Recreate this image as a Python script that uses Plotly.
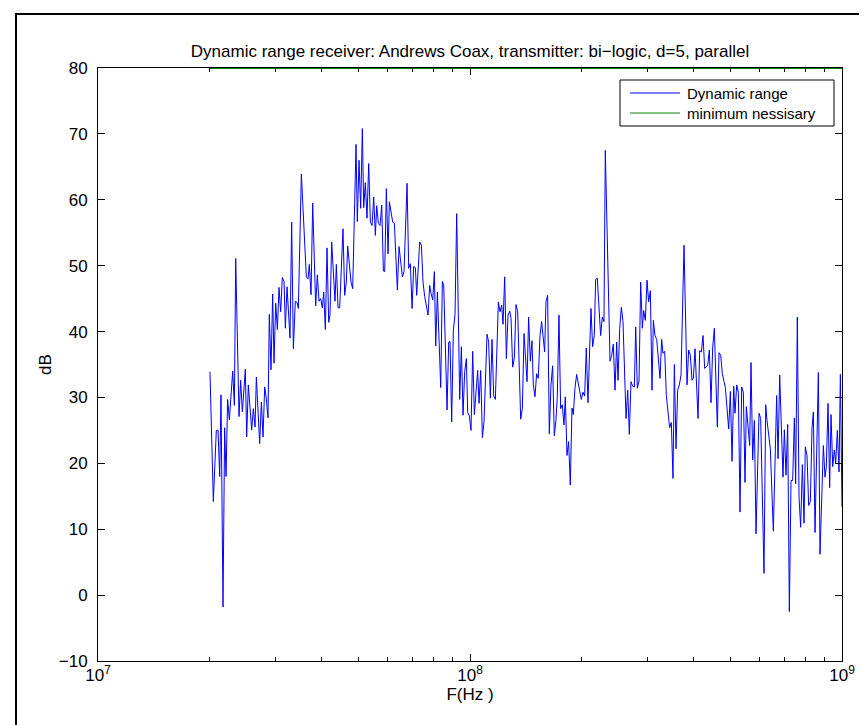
import plotly.graph_objects as go

# Frequency (MHz) and dynamic range (dB)
freq_mhz = [
    20.0, 20.42, 20.80, 21.02, 21.24, 21.41, 21.68, 21.90, 22.09, 22.31, 22.55, 22.78, 23.02, 23.26, 23.45,
    23.94, 24.18, 24.44, 24.89, 25.10, 25.36, 25.89, 26.16, 26.43, 26.65, 27.20, 27.49, 27.77, 28.06, 28.35,
    28.64, 28.88, 29.18, 29.48, 29.73, 30.04, 30.35, 30.66, 30.98, 31.30, 31.63, 31.89, 32.22,
    32.82, 33.16, 33.51, 33.92, 34.28, 34.56, 35.21, 36.31, 36.69, 36.99, 37.38, 37.77, 38.47, 38.87, 39.28,
    39.68, 40.09, 40.43, 40.85, 41.27, 41.70, 42.04, 42.48, 42.92, 43.37, 43.72, 44.18, 44.63, 45.56, 46.04,
    46.51, 46.90, 47.88, 48.38, 49.38, 49.79, 50.31, 50.83, 51.36, 51.79, 52.32, 52.86,
    53.42, 53.98, 54.54, 55.10, 55.67, 56.13, 56.72, 57.30, 57.90, 58.50, 58.98, 59.59, 60.21, 60.71, 61.98,
    62.62, 63.79, 64.46, 65.80, 66.48, 67.73, 68.43, 69.14, 69.86, 70.58, 71.31, 71.90, 73.25, 74.01, 74.77,
    75.55, 77.13, 77.92, 78.57, 79.39, 80.21, 80.88, 81.72, 83.42, 84.28, 84.98, 86.76,
    87.64, 88.37, 89.28, 90.21, 91.15, 92.09, 93.82, 94.79, 95.77, 96.76, 97.77, 98.58, 99.60, 100.63, 101.68,
    102.73, 103.80, 104.87, 105.74, 106.84, 107.95, 109.07, 111.11, 112.26, 113.43, 114.60, 115.79, 116.99,
    119.19, 120.42, 121.67, 122.67, 123.95, 125.23, 126.53, 127.84, 128.91, 130.24, 131.59, 132.96, 134.34,
    136.85, 138.27, 139.71, 142.33,
    143.76, 145.25, 146.75, 147.97, 149.50, 151.05, 152.62, 154.20, 155.80, 158.72, 160.04, 161.69, 163.37,
    165.07, 166.78, 168.51, 170.26, 171.67, 173.45, 175.25, 177.06, 178.90, 180.38, 182.25, 184.14, 186.05,
    187.98, 189.54, 191.51, 193.49, 197.11, 199.16, 201.22, 203.31, 205.41, 207.55, 211.44, 213.63, 215.85,
    217.64, 219.90, 224.48, 226.81, 229.16, 231.06,
    237.9, 240.4, 242.8, 245.4, 247.9, 250.0, 252.6, 255.2, 257.8, 262.7, 265.4, 268.1, 270.9, 273.7, 276.6,
    278.9, 281.7, 284.7, 287.6, 290.6, 293.0, 296.0, 299.1, 302.2, 305.4, 308.5, 311.1, 314.3, 317.6, 324.2,
    327.5, 330.2, 333.7, 337.1, 340.6, 344.1, 347.7, 351.3, 354.3, 357.9, 361.6, 365.4, 369.2, 376.1, 383.2,
    387.1, 391.2, 395.2, 398.5, 402.6, 410.2, 414.4, 418.7, 423.1, 427.4, 431.9, 435.5, 440.0, 444.5, 449.1,
    453.8, 462.3, 467.1, 472.0, 476.8, 481.8, 485.8, 495.9, 501.1, 506.3, 511.5, 515.7, 521.1, 526.5, 531.9,
    537.5, 543.0, 548.7, 553.2, 564.7, 569.4, 575.3, 581.3, 587.3, 598.3, 604.5, 617.1, 623.6, 628.7,
    641.8, 653.8, 667.4, 673.0, 680.0, 694.1, 699.9, 707.1, 714.5, 721.9, 729.4, 736.9, 744.6, 750.7, 758.5,
    766.4, 774.3, 782.4, 790.5, 797.0, 805.3, 813.6, 822.1, 830.6, 837.5, 846.2, 863.8, 872.8, 891.0, 900.2,
    907.6, 917.1, 926.5, 934.3, 944.0, 953.7, 961.7, 971.6, 981.7, 989.9, 1000.0,
]

dyn_range_db = [
    33.9, 14.2, 25.0, 25.0, 18.0, 30.4, -1.8, 25.4, 18.0, 29.7, 26.6, 29.8, 34.0, 28.8, 51.1,
    27.1, 32.6, 27.8, 34.3, 24.0, 31.9, 25.1, 28.3, 25.5, 33.1, 23.0, 29.3, 24.0, 31.6, 29.8,
    26.9, 42.6, 34.2, 45.7, 35.2, 44.3, 40.3, 46.7, 43.0, 48.2, 47.6, 40.5, 46.8,
    39.0, 56.6, 37.4, 44.6, 44.4, 43.5, 63.9, 48.3, 48.0, 50.2, 45.6, 59.5, 43.9, 48.6, 44.6,
    45.0, 43.6, 46.0, 40.3, 52.7, 41.4, 42.5, 53.6, 48.0, 44.6, 50.2, 43.6, 43.6, 55.6, 45.5,
    47.5, 53.0, 47.5, 46.5, 68.4, 56.7, 66.0, 58.7, 70.8, 58.8, 62.6, 57.2,
    65.5, 56.6, 56.1, 60.4, 54.6, 59.1, 56.4, 56.1, 59.2, 49.2, 49.1, 61.7, 51.8, 59.7, 56.6,
    56.4, 46.3, 52.9, 48.3, 49.1, 62.5, 49.6, 50.3, 43.5, 49.9, 49.7, 45.5, 53.6, 53.1, 47.5,
    45.3, 42.5, 47.0, 45.8, 44.8, 49.1, 37.8, 46.0, 31.5, 47.6, 47.1, 28.1,
    38.4, 38.5, 26.3, 40.2, 42.6, 57.9, 29.7, 37.7, 27.3, 33.9, 35.9, 27.7, 27.2, 25.0, 37.0,
    27.4, 31.3, 34.1, 29.1, 34.1, 23.9, 26.3, 39.6, 38.4, 29.9, 38.8, 30.3, 29.7,
    44.5, 43.0, 44.0, 41.1, 48.3, 35.9, 42.5, 43.1, 42.0, 34.6, 36.0, 44.1, 43.0,
    26.7, 28.3, 39.7, 32.4,
    42.2, 35.5, 38.6, 31.9, 30.1, 33.6, 32.9, 39.4, 41.5, 36.9, 44.5, 45.5, 24.5,
    31.9, 34.8, 24.2, 26.6, 30.1, 42.5, 28.3, 28.9, 25.8, 30.1, 21.2, 23.3, 16.7,
    28.4, 27.4, 31.4, 33.5, 30.8, 29.7, 30.8, 30.2, 37.5, 29.2, 43.5, 37.7, 39.4,
    47.9, 48.1, 39.4, 42.2, 41.5, 67.5,
    35.5, 36.4, 38.1, 31.1, 38.4, 32.6, 40.5, 43.7, 41.5, 26.8, 31.1, 24.4, 32.4, 31.7, 31.6,
    40.7, 31.4, 32.5, 47.5, 40.5, 43.2, 41.7, 47.8, 44.5, 46.2, 31.1, 41.7, 39.4, 38.8, 32.9,
    38.8, 36.7, 37.0, 30.3, 27.6, 25.4, 26.2, 17.7, 35.0, 22.2, 31.1, 31.9, 33.4, 53.1, 31.9,
    37.2, 36.4, 32.6, 32.9, 37.4, 26.8, 37.1, 36.9, 39.4, 34.4, 34.6, 34.9, 37.2, 29.2, 37.5,
    40.5, 25.5, 36.8, 36.4, 33.6, 32.4, 31.5, 25.2, 30.9, 20.3, 31.7, 27.6, 31.9, 30.8, 12.6,
    31.6, 30.8, 17.1, 28.6, 22.7, 35.3, 20.5, 26.5, 9.3, 27.6, 26.8, 3.3, 28.9, 26.5,
    22.2, 9.7, 30.3, 20.7, 33.4, 17.9, 25.1, 18.2, 25.9, -2.5, 17.4, 17.4, 26.9, 16.9, 42.2,
    14.9, 10.3, 19.8, 10.9, 22.5, 21.2, 13.6, 14.2, 25.3, 27.8, 9.5, 33.8, 6.2, 22.7, 17.9,
    19.5, 29.1, 16.3, 27.4, 19.5, 22.0, 20.0, 25.0, 18.7, 33.5, 13.4,
]

# Minimum necessary level (drawn along the top of the axes)
min_freq_mhz = [20.0, 1000.0]
min_necessary_db = [80, 80]

series_names = ["Dynamic range", "minimum nessisary"]
series_colors = ["#0000FF", "#008000"]

x_tick_vals = [1e7, 1e8, 1e9]
x_tick_text = ["10<sup>7</sup>", "10<sup>8</sup>", "10<sup>9</sup>"]
x_minor_vals = [2e7, 3e7, 4e7, 5e7, 6e7, 7e7, 8e7, 9e7,
                2e8, 3e8, 4e8, 5e8, 6e8, 7e8, 8e8, 9e8]
y_tick_vals = [-10, 0, 10, 20, 30, 40, 50, 60, 70, 80]

title_text = "Dynamic range receiver: Andrews Coax, transmitter: bi\u2212logic, d=5, parallel"

FONT = "Liberation Sans, Arial, Helvetica, sans-serif"
FS = 17      # axes text
FS_LEG = 15  # legend text

fig = go.Figure()
fig.add_trace(go.Scatter(
    x=[f * 1e6 for f in freq_mhz], y=dyn_range_db, mode="lines",
    name=series_names[0], line=dict(color=series_colors[0], width=1), showlegend=False,
))
fig.add_trace(go.Scatter(
    x=[f * 1e6 for f in min_freq_mhz], y=min_necessary_db, mode="lines",
    name=series_names[1], line=dict(color=series_colors[1], width=2), showlegend=False,
))

W, H = 867, 725
ml, mr, mt, mb = 90, 33, 60, 72
pw, ph = W - ml - mr, H - mt - mb

def px_x(px):
    return (px - ml) / pw

def px_y(py):
    return (H - mb - py) / ph

# Legend box (MATLAB style), built from shapes + text
leg_left, leg_right, leg_top, leg_bottom = 612, 826, 72, 118
row_y = [85, 105]
sample_x0, sample_x1, text_x = 622, 672, 677

shapes = [
    # figure frame (left and top edges)
    dict(type="line", xref="paper", yref="paper",
         x0=px_x(8), x1=px_x(8), y0=px_y(6), y1=px_y(H + 5),
         line=dict(color="black", width=2)),
    dict(type="line", xref="paper", yref="paper",
         x0=px_x(7), x1=px_x(W + 5), y0=px_y(6), y1=px_y(6),
         line=dict(color="black", width=2)),
    # legend box
    dict(type="rect", xref="paper", yref="paper",
         x0=px_x(leg_left), x1=px_x(leg_right), y0=px_y(leg_bottom), y1=px_y(leg_top),
         fillcolor="white", line=dict(color="black", width=1), layer="above"),
]
annotations = []
for name, color, ry in zip(series_names, series_colors, row_y):
    shapes.append(dict(type="line", xref="paper", yref="paper",
                       x0=px_x(sample_x0), x1=px_x(sample_x1), y0=px_y(ry), y1=px_y(ry),
                       line=dict(color=color, width=1), layer="above"))
    annotations.append(dict(text=name, xref="paper", yref="paper",
                            x=px_x(text_x), y=px_y(ry), xanchor="left", yanchor="middle",
                            showarrow=False,
                            font=dict(family=FONT, size=FS_LEG, color="black")))

fig.update_layout(
    width=W, height=H,
    margin=dict(l=ml, r=mr, t=mt, b=mb, pad=0),
    paper_bgcolor="white", plot_bgcolor="white",
    font=dict(family=FONT, size=FS, color="black"),
    title=dict(text=title_text, x=0.5, xref="paper", xanchor="center",
               y=1 - 43 / H, yref="container", yanchor="middle",
               font=dict(family=FONT, size=FS, color="black")),
    showlegend=False,
    shapes=shapes,
    annotations=annotations,
)

fig.update_xaxes(
    type="log", range=[7, 9],
    tickmode="array", tickvals=x_tick_vals, ticktext=x_tick_text,
    ticks="inside", ticklen=7, tickcolor="black", tickwidth=1,
    minor=dict(tickmode="array", tickvals=x_minor_vals, ticks="inside",
               ticklen=4, tickcolor="black", showgrid=False),
    showline=True, linecolor="black", linewidth=1, mirror="ticks",
    showgrid=False, zeroline=False, ticklabelstandoff=-1,
    tickfont=dict(family=FONT, size=FS, color="black"),
    title=dict(text="F(Hz )", standoff=0, font=dict(family=FONT, size=FS, color="black")),
)
fig.update_yaxes(
    range=[-10, 80], tickvals=y_tick_vals,
    ticks="inside", ticklen=7, tickcolor="black", tickwidth=1,
    showline=True, linecolor="black", linewidth=1, mirror="ticks",
    showgrid=False, zeroline=False, ticklabelstandoff=6,
    tickfont=dict(family=FONT, size=FS, color="black"),
    title=dict(text="dB", standoff=2, font=dict(family=FONT, size=FS, color="black")),
)

fig.write_html("out.html")
